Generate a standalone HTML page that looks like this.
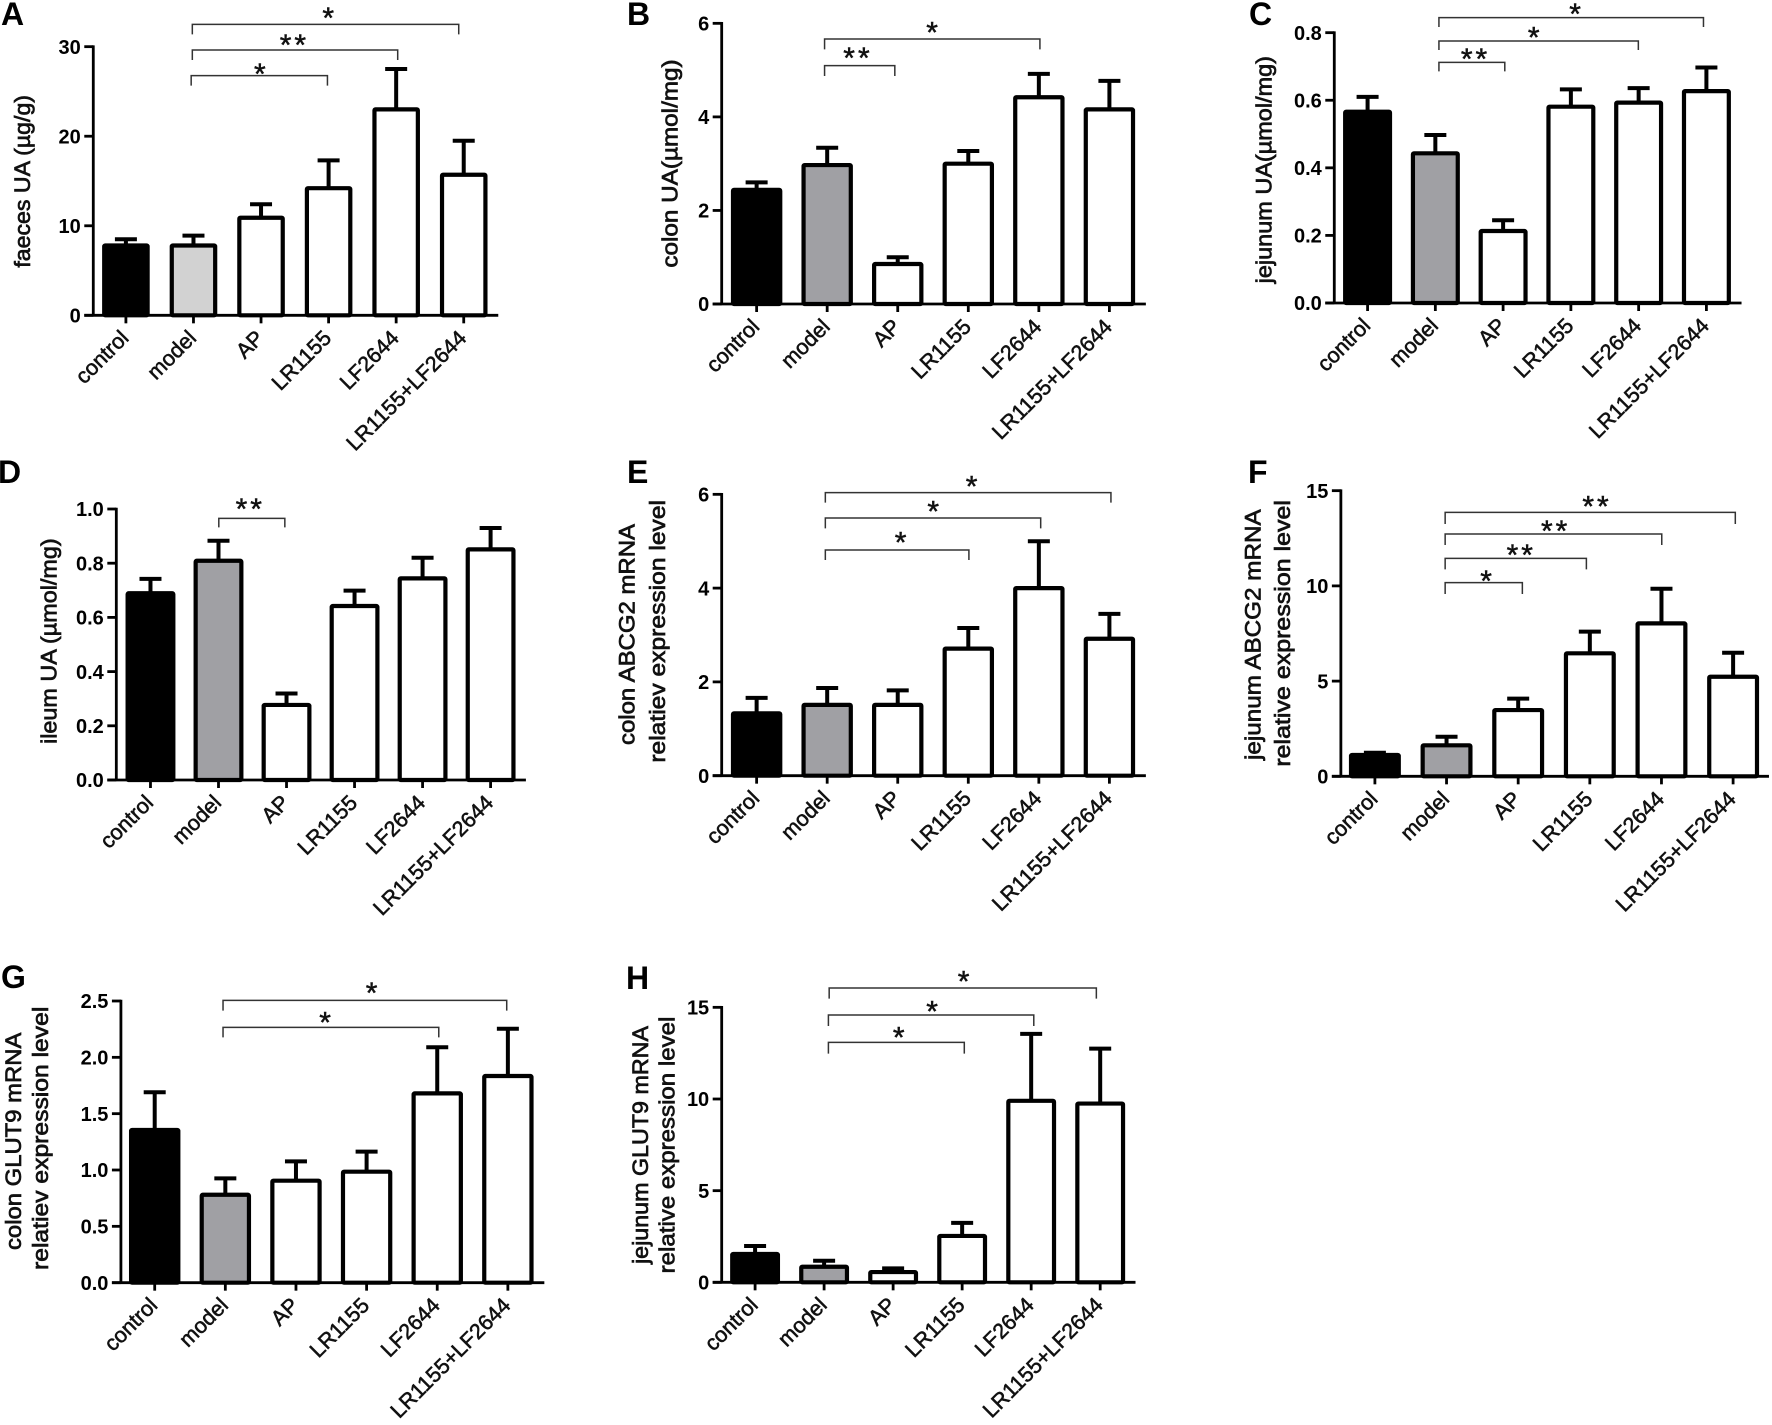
<!DOCTYPE html>
<html lang="en">
<head>
<meta charset="utf-8">
<title>UA and transporter expression bar charts</title>
<style>
html,body{margin:0;padding:0;background:#fff;width:1772px;height:1425px;overflow:hidden}
svg{display:block;font-family:"Liberation Sans",sans-serif}
</style>
</head>
<body>
<svg id="figure" width="1772" height="1425" viewBox="0 0 1772 1425" xmlns="http://www.w3.org/2000/svg"></svg>
<script>
const categories = ["control", "model", "AP", "LR1155", "LF2644", "LR1155+LF2644"];

const panelAValues = [7.8, 7.8, 10.9, 14.2, 23.0, 15.7];
const panelAErrorTops = [8.5, 8.9, 12.4, 17.3, 27.5, 19.5];
const panelATicks = ["0", "10", "20", "30"];
const panelATitle = ["faeces UA (µg/g)"];

const panelBValues = [2.44, 2.97, 0.855, 3.0, 4.42, 4.16];
const panelBErrorTops = [2.6, 3.34, 1.0, 3.27, 4.92, 4.77];
const panelBTicks = ["0", "2", "4", "6"];
const panelBTitle = ["colon UA(µmol/mg)"];

const panelCValues = [0.566, 0.443, 0.213, 0.581, 0.593, 0.627];
const panelCErrorTops = [0.61, 0.497, 0.245, 0.632, 0.636, 0.697];
const panelCTicks = ["0.0", "0.2", "0.4", "0.6", "0.8"];
const panelCTitle = ["jejunum UA(µmol/mg)"];

const panelDValues = [0.689, 0.809, 0.277, 0.642, 0.744, 0.851];
const panelDErrorTops = [0.742, 0.883, 0.319, 0.699, 0.82, 0.93];
const panelDTicks = ["0.0", "0.2", "0.4", "0.6", "0.8", "1.0"];
const panelDTitle = ["ileum UA (µmol/mg)"];

const panelEValues = [1.33, 1.51, 1.51, 2.71, 4.0, 2.92];
const panelEErrorTops = [1.66, 1.87, 1.82, 3.15, 5.0, 3.45];
const panelETicks = ["0", "2", "4", "6"];
const panelETitle = ["colon ABCG2 mRNA", "relatiev expression level"];

const panelFValues = [1.12, 1.63, 3.48, 6.46, 8.03, 5.23];
const panelFErrorTops = [1.24, 2.08, 4.08, 7.6, 9.85, 6.49];
const panelFTicks = ["0", "5", "10", "15"];
const panelFTitle = ["jejunum ABCG2 mRNA", "relative expression level"];

const panelGValues = [1.355, 0.78, 0.905, 0.985, 1.68, 1.834];
const panelGErrorTops = [1.69, 0.926, 1.077, 1.163, 2.09, 2.254];
const panelGTicks = ["0.0", "0.5", "1.0", "1.5", "2.0", "2.5"];
const panelGTitle = ["colon GLUT9 mRNA", "relatiev expression level"];

const panelHValues = [1.55, 0.85, 0.56, 2.53, 9.9, 9.75];
const panelHErrorTops = [1.98, 1.18, 0.76, 3.24, 13.55, 12.75];
const panelHTicks = ["0", "5", "10", "15"];
const panelHTitle = ["jejunum GLUT9 mRNA", "relative expression level"];

const panelASigLabels = ["*", "**", "*"];
const panelBSigLabels = ["*", "**"];
const panelCSigLabels = ["*", "*", "**"];
const panelDSigLabels = ["**"];
const panelESigLabels = ["*", "*", "*"];
const panelFSigLabels = ["**", "**", "**", "*"];
const panelGSigLabels = ["*", "*"];
const panelHSigLabels = ["*", "*", "*"];

/* Layout only: geometry measured on the figure, separate from the data above.
   Units are crop units converted with offX/offY/sx (y scale is always 3). */
const panels = [
  {id:"a", letter:"A", lx:1, ly:25, offX:0, offY:0, sx:2.605, axisX:243, baseY:946, topY:140, firstX:328, step:176, rightX:1298, barW:124, modelFill:"#d2d2d2",
   values:panelAValues, tops:panelAErrorTops, ticks:panelATicks, title:panelATitle, sig:panelASigLabels,
   titleBoxes:[[58,285,803]],
   brackets:[[501,1195,73,103,855,40],[501,1036,150,180,767,120],[498,853,227,257,677,207]]},
  {id:"b", letter:"B", lx:627, ly:25, offX:600, offY:0, sx:2.605, axisX:317, baseY:912, topY:70, firstX:408, step:183.8, rightX:1422, barW:134, modelFill:"#a0a0a4",
   values:panelBValues, tops:panelBErrorTops, ticks:panelBTicks, title:panelBTitle, sig:panelBSigLabels,
   titleBoxes:[[182,178,803]],
   brackets:[[585,1146,117,148,865,83],[585,768,197,228,672,160]]},
  {id:"c", letter:"C", lx:1249, ly:25, offX:1200, offY:0, sx:2.733, axisX:367, baseY:909, topY:98, firstX:458, step:185.2, rightX:1480, barW:134, modelFill:"#a0a0a4",
   values:panelCValues, tops:panelCErrorTops, ticks:panelCTicks, title:panelCTitle, sig:panelCSigLabels,
   titleBoxes:[[175,168,850]],
   brackets:[[653,1376,53,81,1025,28],[653,1198,123,150,912,98],[653,833,187,214,753,162]]},
  {id:"d", letter:"D", lx:-2, ly:483, offX:0, offY:450, sx:2.605, axisX:303, baseY:990, topY:177, firstX:392, step:177.2, rightX:1370, barW:130, modelFill:"#a0a0a4",
   values:panelDValues, tops:panelDErrorTops, ticks:panelDTicks, title:panelDTitle, sig:panelDSigLabels,
   titleBoxes:[[128,265,882]],
   brackets:[[570,742,205,232,652,162]]},
  {id:"e", letter:"E", lx:627, ly:483, offX:600, offY:450, sx:2.605, axisX:317, baseY:977, topY:133, firstX:408, step:183.8, rightX:1422, barW:134, modelFill:"#a0a0a4",
   values:panelEValues, tops:panelEErrorTops, ticks:panelETicks, title:panelETitle, sig:panelESigLabels,
   titleBoxes:[[70,222,885],[150,150,938]],
   brackets:[[587,1331,128,158,968,95],[587,1148,204,235,868,170],[587,961,300,330,783,263]]},
  {id:"f", letter:"F", lx:1248, ly:483, offX:1200, offY:450, sx:2.733, axisX:385, baseY:979, topY:122, firstX:478, step:195.8, rightX:1555, barW:142, modelFill:"#a0a0a4",
   values:panelFValues, tops:panelFErrorTops, ticks:panelFTicks, title:panelFTitle, sig:panelFSigLabels,
   titleBoxes:[[145,178,930],[225,150,950]],
   brackets:[[670,1463,187,222,1085,155],[670,1262,252,285,972,228],[670,1056,325,358,878,300],[670,881,398,432,782,378]]},
  {id:"g", letter:"G", lx:1, ly:988, offX:0, offY:950, sx:2.605, axisX:315, baseY:998, topY:153, firstX:403, step:184, rightX:1418, barW:134, modelFill:"#a0a0a4",
   values:panelGValues, tops:panelGErrorTops, ticks:panelGTicks, title:panelGTitle, sig:panelGSigLabels,
   titleBoxes:[[35,248,900],[105,170,960]],
   brackets:[[581,1320,151,182,968,115],[581,1143,232,262,847,203]]},
  {id:"h", letter:"H", lx:626, ly:989, offX:600, offY:950, sx:2.605, axisX:317, baseY:997, topY:172, firstX:404, step:179.8, rightX:1395, barW:130, modelFill:"#a0a0a4",
   values:panelHValues, tops:panelHErrorTops, ticks:panelHTicks, title:panelHTitle, sig:panelHSigLabels,
   titleBoxes:[[105,228,942],[175,200,970]],
   brackets:[[597,1293,114,146,947,80],[595,1130,195,228,865,170],[595,949,277,311,778,248]]}
];

const NS = "http://www.w3.org/2000/svg";
const figure = document.getElementById("figure");

function make(parent, tag, attrs, text) {
  const el = document.createElementNS(NS, tag);
  for (const k in attrs) el.setAttribute(k, attrs[k]);
  if (text !== undefined) el.textContent = text;
  parent.appendChild(el);
  return el;
}

const BAR_STROKE = 4.2;
const ERROR_STROKE = 4;
const AXIS_STROKE = 2.8;
const CAP_WIDTH = 22;

panels.forEach(function (p) {
  const px = function (z) { return p.offX + z / p.sx; };
  const py = function (z) { return p.offY + z / 3; };
  const maxTick = parseFloat(p.ticks[p.ticks.length - 1]);
  const xScale = function (i) { return px(p.firstX + i * p.step); };
  const yScale = function (v) { return py(p.baseY) - (v / maxTick) * (py(p.baseY) - py(p.topY)); };

  const group = make(figure, "g", {});
  
  

  const letter = make(group, "text", {x:p.lx, y:p.ly, "font-size":32, "font-weight":"bold", fill:"#000"}, p.letter);
  
  

  /* bars and error bars */
  categories.forEach(function (cat, i) {
    const cx = xScale(i);
    const halfW = p.barW / p.sx / 2 - BAR_STROKE / 2;
    const yTop = yScale(p.values[i]);
    const yCap = yScale(p.tops[i]);
    const y0 = yScale(0);

    const stem = make(group, "line", {x1:cx, x2:cx, y1:yTop, y2:yCap, stroke:"#000", "stroke-width":ERROR_STROKE});
    
    

    const cap = make(group, "line", {x1:cx - CAP_WIDTH / 2, x2:cx + CAP_WIDTH / 2, y1:yCap, y2:yCap, stroke:"#000", "stroke-width":ERROR_STROKE});
    
    

    const fill = i === 0 ? "#000" : (i === 1 ? p.modelFill : "#fff");
    const bar = make(group, "rect", {x:cx - halfW, y:yTop, width:2 * halfW, height:Math.max(0, y0 - yTop), fill:fill, stroke:"#000", "stroke-width":BAR_STROKE, rx:1});
    
    

    const tick = make(group, "line", {x1:cx, x2:cx, y1:y0, y2:y0 + 8, stroke:"#000", "stroke-width":AXIS_STROKE});
    
    

    const lx = cx + 4;
    const ly = y0 + 24;
    const label = make(group, "text", {x:lx, y:ly, "font-size":21.5, fill:"#111", stroke:"#111", "stroke-width":0.55, "text-anchor":"end", transform:"rotate(-45 " + lx + " " + ly + ")"}, cat);
    
    
  });

  /* axes */
  const yAxis = make(group, "line", {x1:px(p.axisX), x2:px(p.axisX), y1:py(p.topY) - 1.3, y2:py(p.baseY), stroke:"#000", "stroke-width":AXIS_STROKE});
  
  

  const xAxis = make(group, "line", {x1:px(p.axisX) - 9, x2:px(p.rightX), y1:py(p.baseY), y2:py(p.baseY), stroke:"#000", "stroke-width":AXIS_STROKE});
  
  

  p.ticks.forEach(function (t, i) {
    const y = yScale(parseFloat(t));
    const tick = make(group, "line", {x1:px(p.axisX) - 9, x2:px(p.axisX), y1:y, y2:y, stroke:"#000", "stroke-width":AXIS_STROKE});
    
    

    const label = make(group, "text", {x:px(p.axisX) - 12.5, y:y + 7.2, "font-size":20, "font-weight":"bold", fill:"#000", "text-anchor":"end"}, t);
    
    
  });

  /* y-axis title lines */
  p.title.forEach(function (line, i) {
    const box = p.titleBoxes[i];
    const bx = px(box[0]) + 7.5;
    const by = py((box[1] + box[2]) / 2);
    const len = (box[2] - box[1]) / 3;
    const title = make(group, "text", {x:bx, y:by, "font-size":22.5, fill:"#111", stroke:"#111", "stroke-width":0.7, "text-anchor":"middle", textLength:len, lengthAdjust:"spacingAndGlyphs", transform:"rotate(-90 " + bx + " " + by + ")"}, line);
    
    
  });

  /* significance brackets */
  p.brackets.forEach(function (b, i) {
    const d = "M" + px(b[0]) + " " + py(b[3]) + "V" + py(b[2]) + "H" + px(b[1]) + "V" + py(b[3]);
    const bracket = make(group, "path", {d:d, fill:"none", stroke:"#333", "stroke-width":1.5});
    
    

    const fs = 30;
    const star = make(group, "text", {x:px(b[4]), y:py(b[5]) + 0.575 * fs - 2.5, "font-size":fs, fill:"#111", stroke:"#111", "stroke-width":0.5, "text-anchor":"middle", "letter-spacing":p.sig[i].length > 1 ? 3 : 0}, p.sig[i]);
    
    
  });
});
</script>
</body>
</html>
